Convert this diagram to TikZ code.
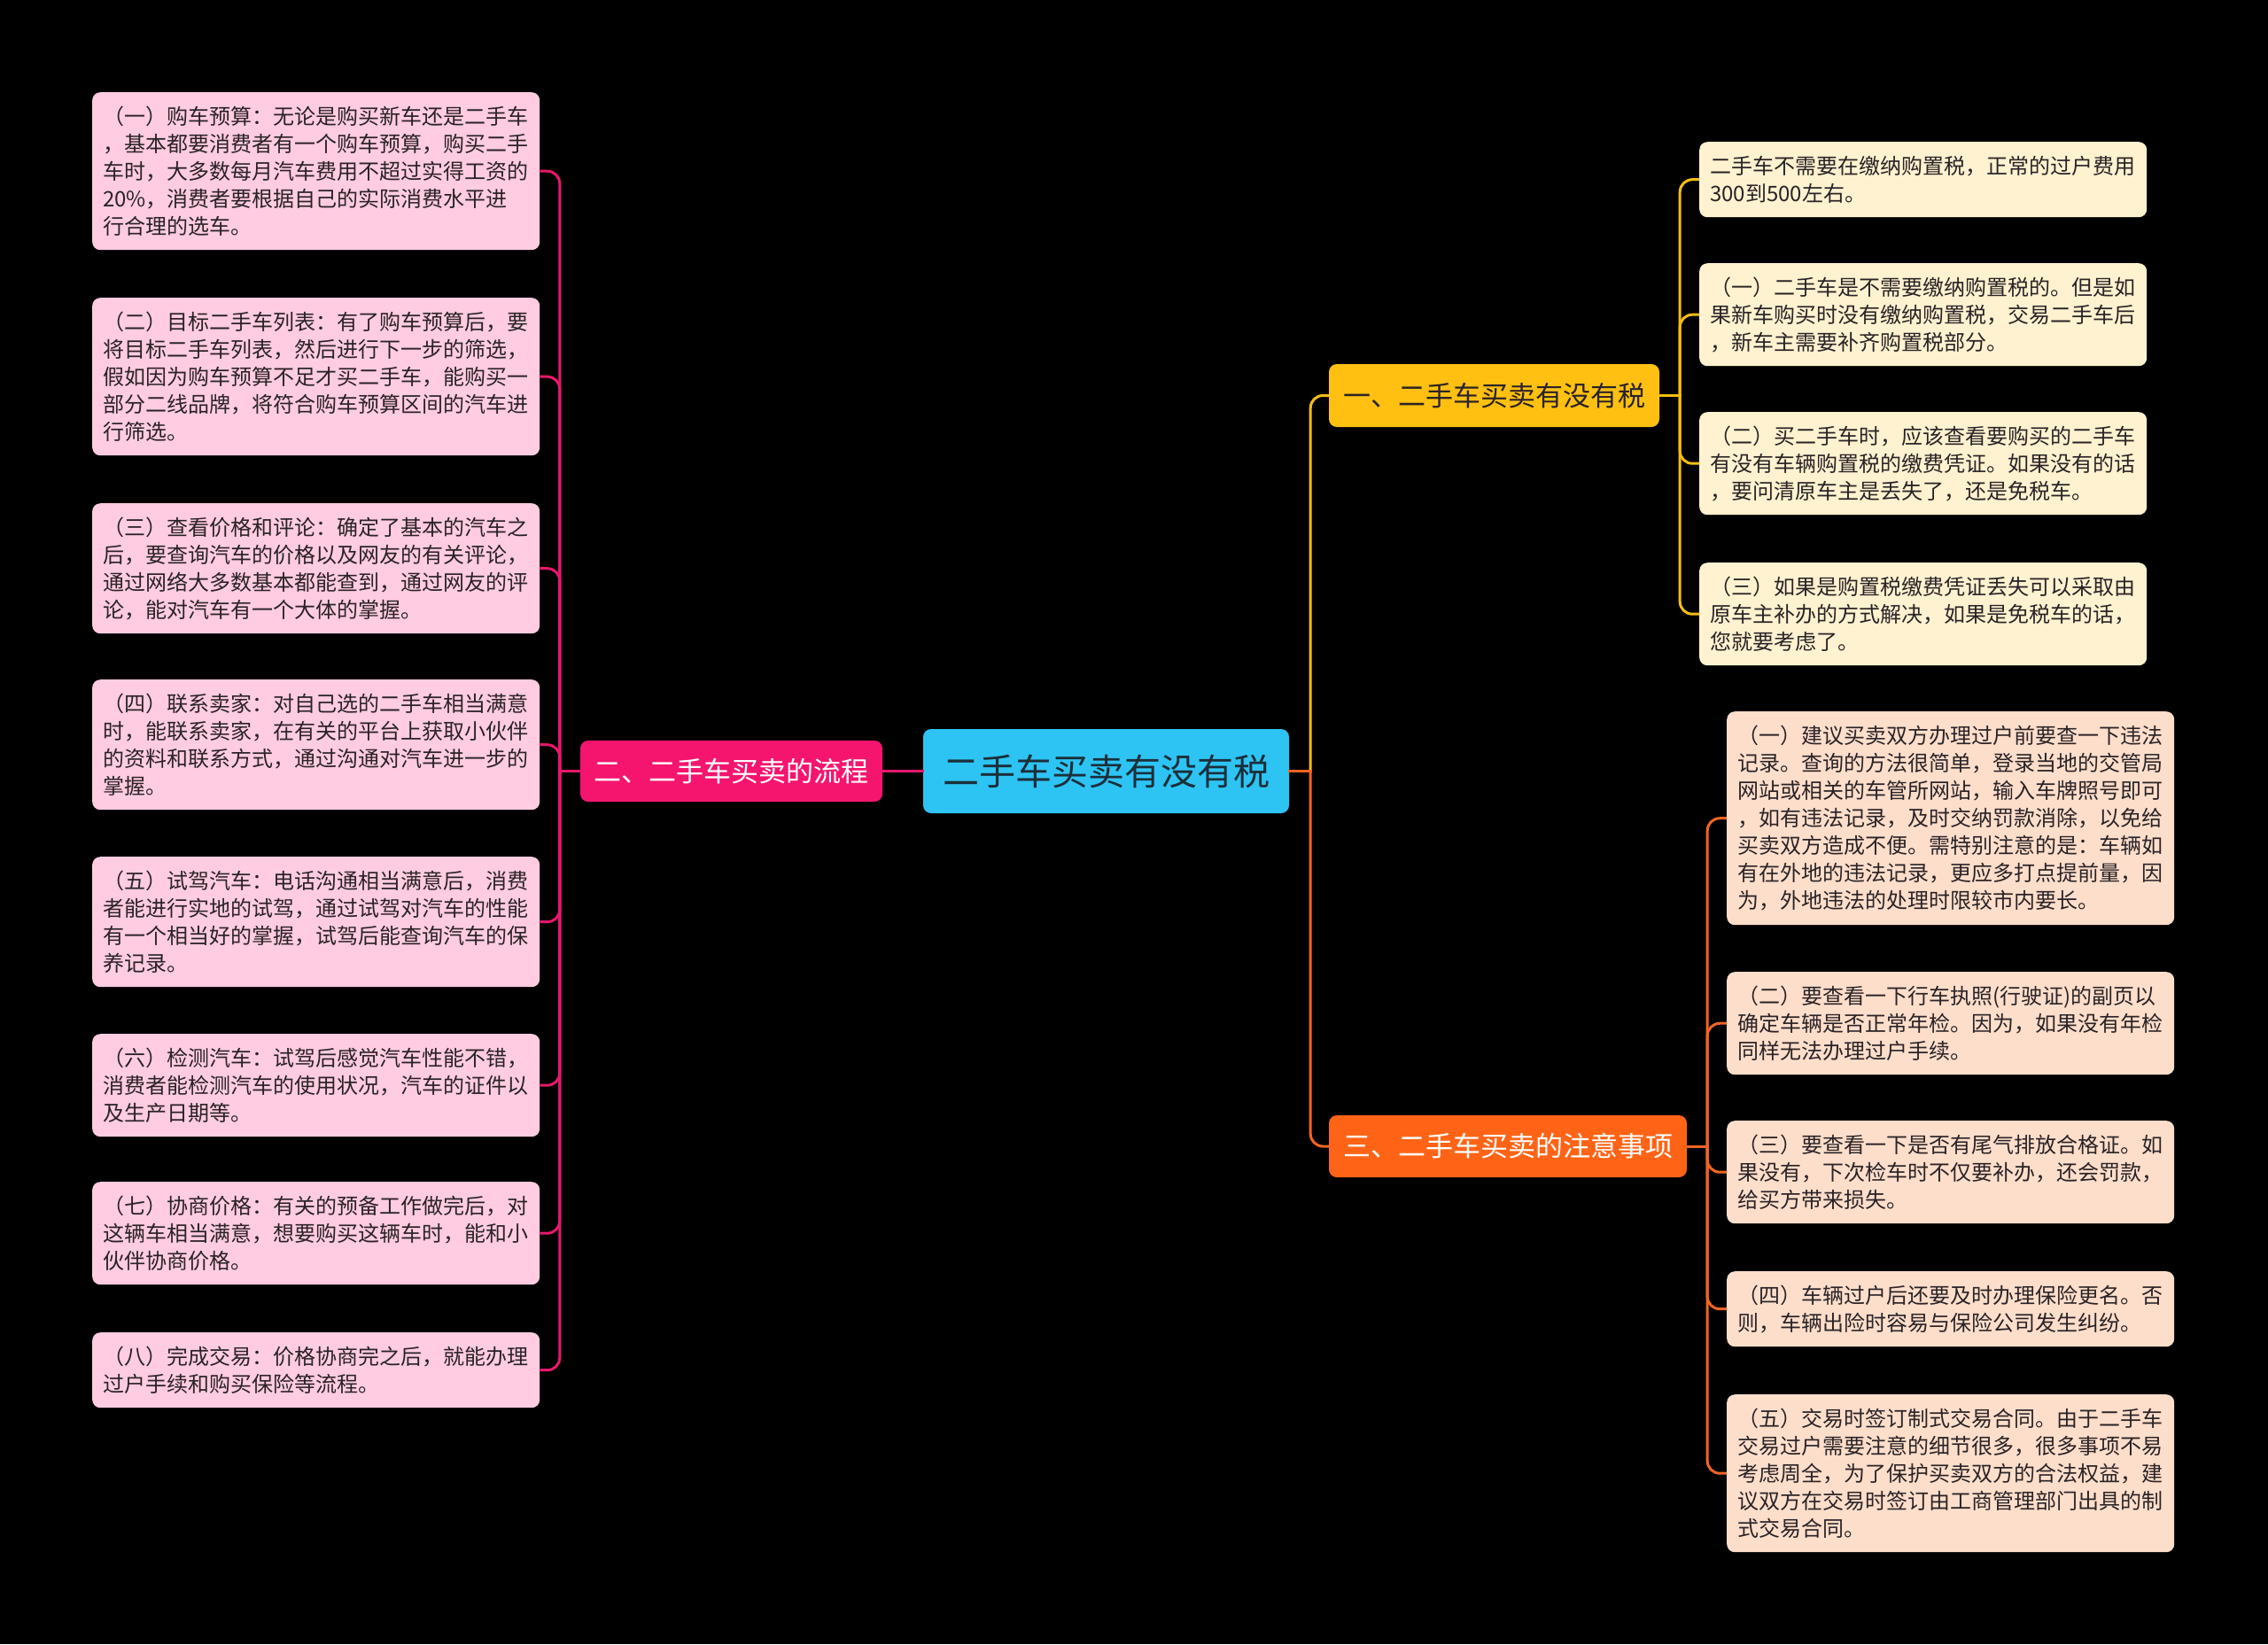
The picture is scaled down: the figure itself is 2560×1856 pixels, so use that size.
\documentclass[tikz,border=0pt]{standalone}
\usepackage{fontspec}
\setmainfont{Noto Sans CJK SC}
\usepackage{tikz}
\definecolor{rootfill}{HTML}{2DC4F4}
\definecolor{yfill}{HTML}{FFC012}
\definecolor{pfill}{HTML}{F5156E}
\definecolor{ofill}{HTML}{FF6416}
\definecolor{pleaf}{HTML}{FFCCE1}
\definecolor{yleaf}{HTML}{FFF2D0}
\definecolor{oleaf}{HTML}{FDDECB}
\definecolor{pline}{HTML}{E8186D}
\definecolor{yline}{HTML}{F5BD12}
\definecolor{oline}{HTML}{F26522}
\definecolor{dtext}{HTML}{2A2326}
\definecolor{rtext}{HTML}{1B2F3A}

\begin{document}
\begin{tikzpicture}[x=1pt,y=-1pt,
  hd/.style={rounded corners=9pt,align=center,inner sep=0pt,font=\fontsize{31}{36}\selectfont},
  lf/.style={anchor=north west,rounded corners=9pt,align=left,text width=481pt,inner xsep=12pt,inner ysep=4pt,text=dtext,font=\fontsize{24}{31}\selectfont},
  lfp/.style={lf,fill=pleaf},
  lfy/.style={lf,fill=yleaf},
  lfo/.style={lf,fill=oleaf},
  ln/.style={line width=3pt,rounded corners=14pt},
  stub/.style={line width=3pt,line cap=rect}]
\useasboundingbox (0,0) rectangle (2560,1856);
\fill[black] (0,0) rectangle (2560,1856);

\node[hd,fill=rootfill,text=rtext,minimum width=413,minimum height=95,font=\fontsize{41}{48}\selectfont] (root) at (1248.5,870.5) {二手车买卖有没有税};
\node[hd,fill=yfill,text=dtext,minimum width=373,minimum height=71] (b1) at (1686.5,446.5) {一、二手车买卖有没有税};
\node[hd,fill=pfill,text=white,minimum width=341,minimum height=69] (b2) at (825.5,870.5) {二、二手车买卖的流程};
\node[hd,fill=ofill,text=white,minimum width=404,minimum height=70] (b3) at (1702,1294) {三、二手车买卖的注意事项};

\node[lfp,minimum height=178] (l1) at (104,104) {（一）购车预算：无论是购买新车还是二手车\\，基本都要消费者有一个购车预算，购买二手\\车时，大多数每月汽车费用不超过实得工资的\\20\%，消费者要根据自己的实际消费水平进\\行合理的选车。};
\node[lfp,minimum height=178] (l2) at (104,336) {（二）目标二手车列表：有了购车预算后，要\\将目标二手车列表，然后进行下一步的筛选，\\假如因为购车预算不足才买二手车，能购买一\\部分二线品牌，将符合购车预算区间的汽车进\\行筛选。};
\node[lfp,minimum height=147] (l3) at (104,568) {（三）查看价格和评论：确定了基本的汽车之\\后，要查询汽车的价格以及网友的有关评论，\\通过网络大多数基本都能查到，通过网友的评\\论，能对汽车有一个大体的掌握。};
\node[lfp,minimum height=147] (l4) at (104,767) {（四）联系卖家：对自己选的二手车相当满意\\时，能联系卖家，在有关的平台上获取小伙伴\\的资料和联系方式，通过沟通对汽车进一步的\\掌握。};
\node[lfp,minimum height=147] (l5) at (104,967) {（五）试驾汽车：电话沟通相当满意后，消费\\者能进行实地的试驾，通过试驾对汽车的性能\\有一个相当好的掌握，试驾后能查询汽车的保\\养记录。};
\node[lfp,minimum height=116] (l6) at (104,1167) {（六）检测汽车：试驾后感觉汽车性能不错，\\消费者能检测汽车的使用状况，汽车的证件以\\及生产日期等。};
\node[lfp,minimum height=116] (l7) at (104,1334) {（七）协商价格：有关的预备工作做完后，对\\这辆车相当满意，想要购买这辆车时，能和小\\伙伴协商价格。};
\node[lfp,minimum height=85] (l8) at (104,1504) {（八）完成交易：价格协商完之后，就能办理\\过户手续和购买保险等流程。};

\node[lfy,minimum height=85] (ya) at (1918,160) {二手车不需要在缴纳购置税，正常的过户费用\\300到500左右。};
\node[lfy,minimum height=116] (yb) at (1918,297) {（一）二手车是不需要缴纳购置税的。但是如\\果新车购买时没有缴纳购置税，交易二手车后\\，新车主需要补齐购置税部分。};
\node[lfy,minimum height=116] (yc) at (1918,465) {（二）买二手车时，应该查看要购买的二手车\\有没有车辆购置税的缴费凭证。如果没有的话\\，要问清原车主是丢失了，还是免税车。};
\node[lfy,minimum height=116] (yd) at (1918,635) {（三）如果是购置税缴费凭证丢失可以采取由\\原车主补办的方式解决，如果是免税车的话，\\您就要考虑了。};

\node[lfo,minimum height=241] (o1) at (1949,803) {（一）建议买卖双方办理过户前要查一下违法\\记录。查询的方法很简单，登录当地的交管局\\网站或相关的车管所网站，输入车牌照号即可\\，如有违法记录，及时交纳罚款消除，以免给\\买卖双方造成不便。需特别注意的是：车辆如\\有在外地的违法记录，更应多打点提前量，因\\为，外地违法的处理时限较市内要长。};
\node[lfo,minimum height=116] (o2) at (1949,1097) {（二）要查看一下行车执照(行驶证)的副页以\\确定车辆是否正常年检。因为，如果没有年检\\同样无法办理过户手续。};
\node[lfo,minimum height=116] (o3) at (1949,1265) {（三）要查看一下是否有尾气排放合格证。如\\果没有，下次检车时不仅要补办，还会罚款，\\给买方带来损失。};
\node[lfo,minimum height=85] (o4) at (1949,1435) {（四）车辆过户后还要及时办理保险更名。否\\则，车辆出险时容易与保险公司发生纠纷。};
\node[lfo,minimum height=178] (o5) at (1949,1574) {（五）交易时签订制式交易合同。由于二手车\\交易过户需要注意的细节很多，很多事项不易\\考虑周全，为了保护买卖双方的合法权益，建\\议双方在交易时签订由工商管理部门出具的制\\式交易合同。};

\coordinate (rj) at ([xshift=24pt]root.east);
\coordinate (j1) at ([xshift=23pt]b1.east);
\coordinate (j2) at ([xshift=-23pt]b2.west);
\coordinate (j3) at ([xshift=23pt]b3.east);

\draw[stub,pline] (root.west) -- (b2.east);
\draw[ln,yline] (rj) |- (b1.west);
\draw[ln,oline] (rj) |- (b3.west);
\draw[stub,oline] (root.east) -- (rj);
\foreach \n in {ya,yb,yc,yd} \draw[ln,yline] (j1) |- (\n.west);
\draw[stub,yline] (b1.east) -- (j1);
\foreach \n in {l1,l2,l3,l4,l5,l6,l7,l8} \draw[ln,pline] (j2) |- (\n.east);
\draw[stub,pline] (b2.west) -- (j2);
\foreach \n in {o1,o2,o3,o4,o5} \draw[ln,oline] (j3) |- (\n.west);
\draw[stub,oline] (b3.east) -- (j3);
\end{tikzpicture}
\end{document}
